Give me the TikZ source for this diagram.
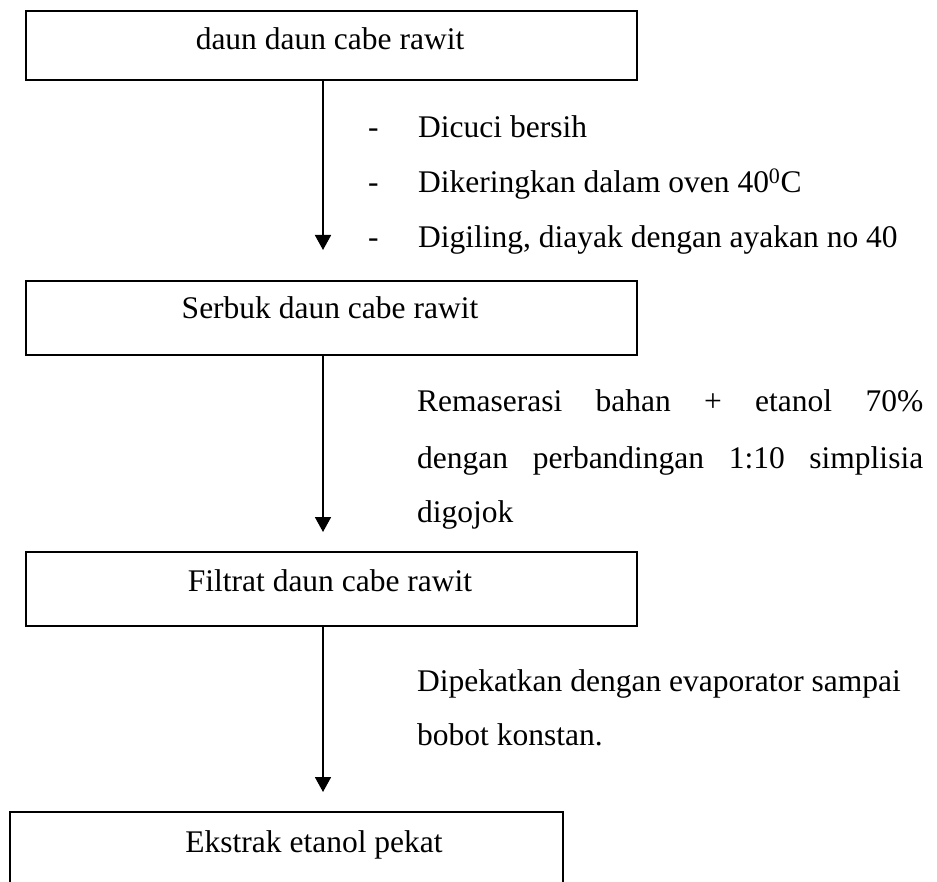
\documentclass[tikz,border=0pt]{standalone}
\usepackage{fontspec}
\setmainfont{Liberation Serif}
\usetikzlibrary{arrows.meta}
\newcommand{\bodyfont}{\fontsize{31.5}{38}\selectfont}
\begin{document}
\begin{tikzpicture}[x=1pt, y=-1pt,
  stage/.style={draw, line width=1.8pt, rectangle, inner sep=0pt, anchor=north west},
  boxtext/.style={inner sep=0pt, anchor=base, font=\bodyfont},
  note/.style={inner sep=0pt, anchor=base west, font=\bodyfont},
  flow/.style={line width=1.8pt, -{Triangle[length=15pt, width=16pt]}}]
\clip (0,0) rectangle (937,882);
\fill[white] (0,0) rectangle (937,882);

% process stages
\node[stage, minimum width=611pt, minimum height=69pt] (b1) at (25,10) {};
\node[stage, minimum width=611pt, minimum height=74pt] (b2) at (25,280) {};
\node[stage, minimum width=611pt, minimum height=74pt] (b3) at (25,551) {};
\node[stage, minimum width=553pt, minimum height=100pt] (b4) at (9,811) {};

\node[boxtext] (t1) at (330,50) {daun daun cabe rawit};
\node[boxtext] (t2) at (330,319) {Serbuk daun cabe rawit};
\node[boxtext] (t3) at (330,591) {Filtrat daun cabe rawit};
\node[boxtext] (t4) at (314,852) {Ekstrak etanol pekat};

% connectors
\coordinate (ax) at (323,0);
\draw[flow, shorten >=30pt] (b1.south -| ax) -- (b2.north -| ax);
\draw[flow, shorten >=19pt] (b2.south -| ax) -- (b3.north -| ax);
\draw[flow, shorten >=19pt] (b3.south -| ax) -- (b4.north -| ax);

% step 1: preparation
\node[note] (d1) at (368,138) {-};
\node[note] (d2) at (368,193) {-};
\node[note] (d3) at (368,248) {-};
\node[note] (s1) at (418,138) {Dicuci bersih};
\node[note] (s2) at (418,193) {Dikeringkan dalam oven 40\textsuperscript{0}C};
\node[note] (s3) at (418,248) {Digiling, diayak dengan ayakan no 40};

% step 2: maceration
\node[note] (m1) at (417,412) {\hbox to 506pt{Remaserasi\hfill bahan\hfill +\hfill etanol\hfill 70\%}};
\node[note] (m2) at (417,468) {\hbox to 506pt{dengan\hfill perbandingan\hfill 1:10\hfill simplisia}};
\node[note] (m3) at (417,522) {digojok};

% step 3: evaporation
\node[note] (e1) at (417,691) {Dipekatkan dengan evaporator sampai};
\node[note] (e2) at (417,745) {bobot konstan.};
\end{tikzpicture}
\end{document}
